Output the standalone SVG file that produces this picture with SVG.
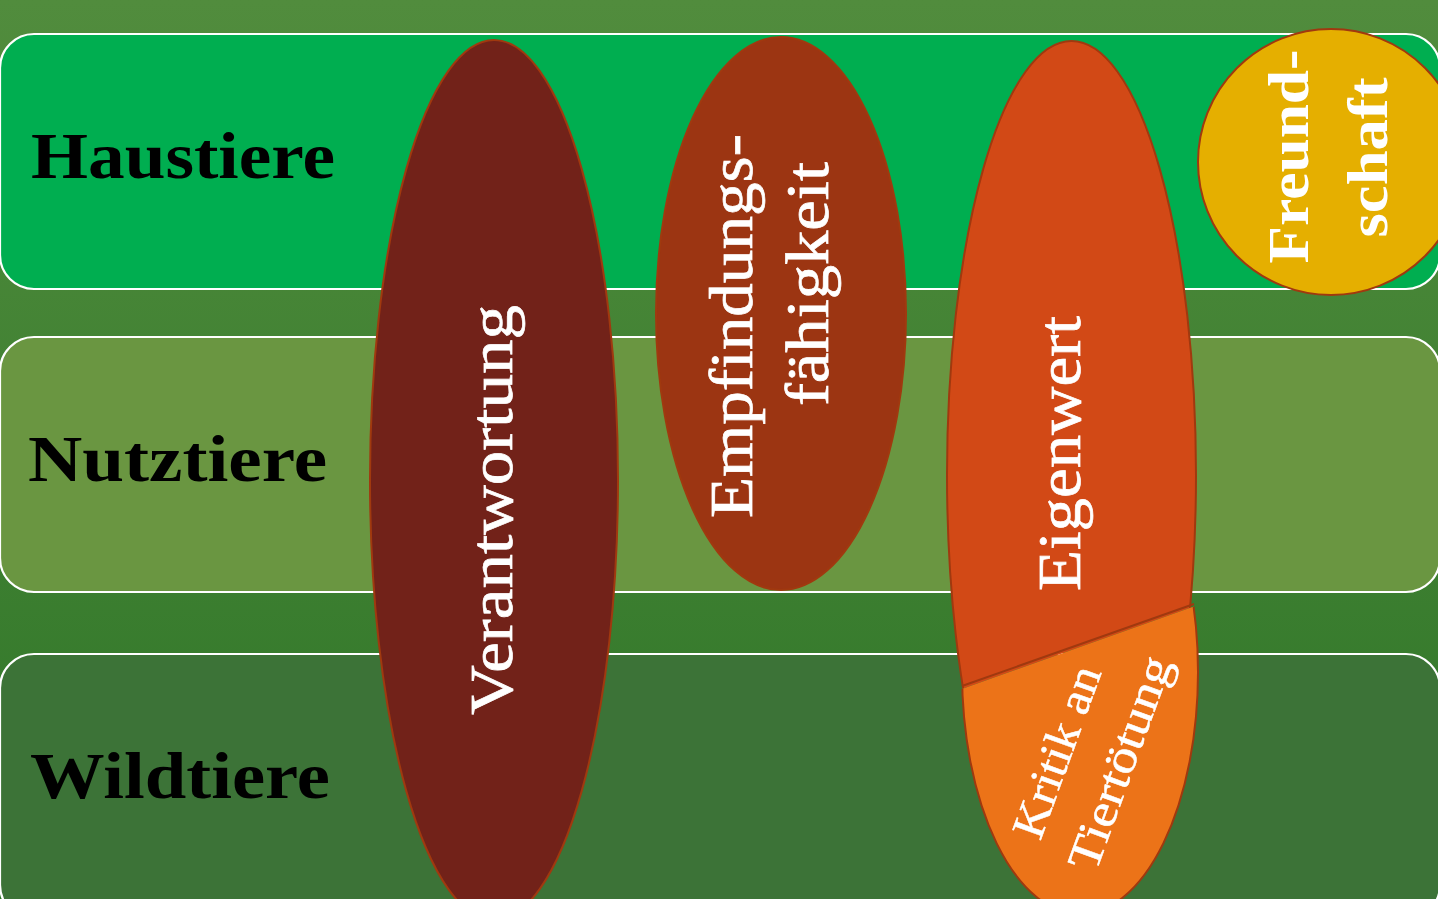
<svg xmlns="http://www.w3.org/2000/svg" width="1438" height="899" viewBox="0 0 1438 899">
  <defs>
    <linearGradient id="bgGrad" x1="0" y1="0" x2="0" y2="1">
      <stop offset="0" stop-color="#518C3D"/>
      <stop offset="1" stop-color="#2F7628"/>
    </linearGradient>
    <!-- half-planes either side of the Eigenwert split line -->
    <clipPath id="aboveSplit">
      <polygon points="900,0 1260,0 1260,583 900,711"/>
    </clipPath>
    <clipPath id="belowSplit">
      <polygon points="900,711 1260,583 1260,960 900,960"/>
    </clipPath>
    <style>
      .band { stroke: #FFFFFF; stroke-width: 2.2; }
      .band-label { font-family: "Liberation Serif", "DejaVu Serif", serif; font-weight: bold; font-size: 66px; fill: #000000; }
      .blob { stroke: #A0390F; stroke-width: 2; }
      .blob-label { font-family: "Liberation Serif", "DejaVu Serif", serif; font-size: 62px; fill: #FFFFFF; stroke: #FFFFFF; stroke-width: 0.7; text-anchor: middle; }
      .small-label { font-family: "Liberation Serif", "DejaVu Serif", serif; font-size: 46px; fill: #FFFFFF; stroke: #FFFFFF; stroke-width: 0.5; text-anchor: middle; }
      .bold-label { font-family: "Liberation Serif", "DejaVu Serif", serif; font-weight: bold; font-size: 58px; fill: #FFFFFF; text-anchor: middle; }
    </style>
  </defs>

  <!-- background -->
  <rect x="0" y="0" width="1438" height="899" fill="url(#bgGrad)"/>

  <!-- category bands -->
  <g id="band-haustiere">
    <rect class="band" x="0" y="34" width="1440" height="255" rx="34" ry="34" fill="#00AE50"/>
    <text class="band-label" x="31" y="178" textLength="304" lengthAdjust="spacingAndGlyphs">Haustiere</text>
  </g>
  <g id="band-nutztiere">
    <rect class="band" x="0" y="337" width="1440" height="255" rx="34" ry="34" fill="#6A9641"/>
    <text class="band-label" x="28" y="481" textLength="299" lengthAdjust="spacingAndGlyphs">Nutztiere</text>
  </g>
  <g id="band-wildtiere">
    <rect class="band" x="0" y="654" width="1440" height="265" rx="34" ry="34" fill="#3C7337"/>
    <text class="band-label" x="30" y="798" textLength="300" lengthAdjust="spacingAndGlyphs">Wildtiere</text>
  </g>

  <!-- value ellipses -->
  <g id="node-verantwortung">
    <ellipse class="blob" cx="494" cy="480" rx="124" ry="440" fill="#722219"/>
    <text class="blob-label" transform="translate(512,510) rotate(-90)" x="0" y="0" textLength="410" lengthAdjust="spacingAndGlyphs">Verantwortung</text>
  </g>

  <g id="node-empfindungsfaehigkeit">
    <ellipse class="blob" cx="781" cy="313.5" rx="125" ry="276.5" fill="#9C3512"/>
    <text class="blob-label" transform="translate(752,326) rotate(-90)" x="0" y="0" textLength="384" lengthAdjust="spacingAndGlyphs">Empfindungs-</text>
    <text class="blob-label" transform="translate(828,284) rotate(-90)" x="0" y="0" textLength="244" lengthAdjust="spacingAndGlyphs">fähigkeit</text>
  </g>

  <g id="node-eigenwert">
    <ellipse class="blob" cx="1071.5" cy="475" rx="124.5" ry="434" fill="#D24916" clip-path="url(#aboveSplit)"/>
    <text class="blob-label" transform="translate(1080,453.5) rotate(-90)" x="0" y="0" textLength="275" lengthAdjust="spacingAndGlyphs">Eigenwert</text>
  </g>

  <g id="node-kritik-an-tiertoetung">
    <ellipse class="blob" cx="1080" cy="672" rx="118" ry="242" fill="#EC7318" clip-path="url(#belowSplit)"/>
    <line class="blob" x1="962" y1="686" x2="1194" y2="604"/>
    <text class="small-label" transform="translate(1071,757) rotate(-70)" x="0" y="0" textLength="180" lengthAdjust="spacingAndGlyphs">Kritik an</text>
    <text class="small-label" transform="translate(1134,768) rotate(-70)" x="0" y="0" textLength="224" lengthAdjust="spacingAndGlyphs">Tiertötung</text>
  </g>

  <g id="node-freundschaft">
    <circle class="blob" cx="1331" cy="162" r="133" fill="#E5AF00"/>
    <text class="bold-label" transform="translate(1308,156.5) rotate(-90)" x="0" y="0" textLength="214" lengthAdjust="spacingAndGlyphs">Freund-</text>
    <text class="bold-label" transform="translate(1387,157.5) rotate(-90)" x="0" y="0" textLength="160" lengthAdjust="spacingAndGlyphs">schaft</text>
  </g>

  <!-- no connectors in this chart -->
  <g id="connectors"/>
</svg>
